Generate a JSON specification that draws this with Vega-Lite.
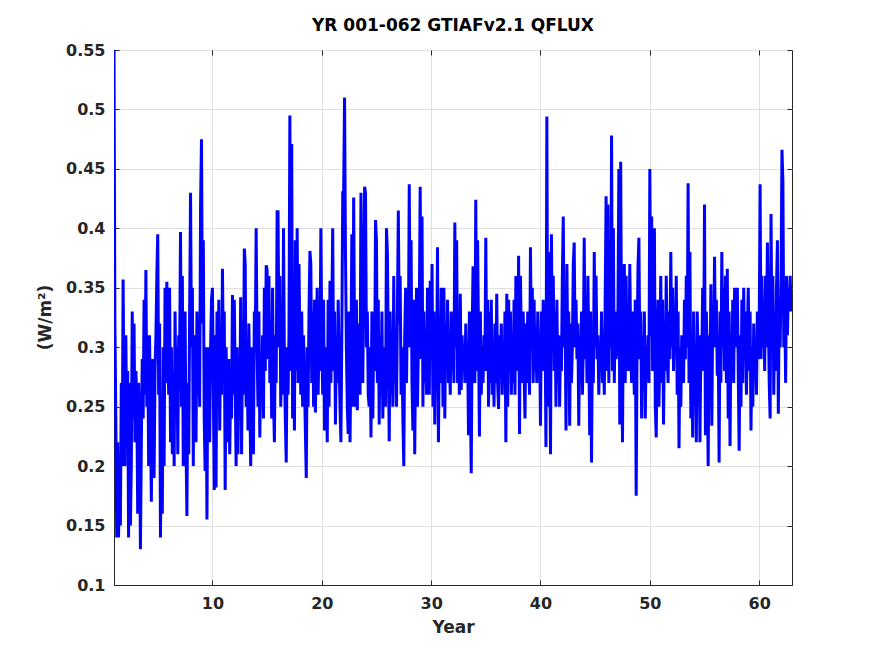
{
  "$schema": "https://vega.github.io/schema/vega-lite/v6.json",
  "title": {"text": "YR 001-062 GTIAFv2.1 QFLUX", "fontSize": 17, "fontWeight": "bold", "color": "#000000", "font": "DejaVu Sans", "anchor": "middle", "offset": 7},
  "width": 678,
  "height": 535,
  "autosize": "none",
  "padding": {"left": 114, "top": 50, "right": 83, "bottom": 71},
  "background": "white",
  "data": {"values": [
{"year":1,"qflux":0.55},{"year":1.083,"qflux":0.32},{"year":1.167,"qflux":0.24},{"year":1.25,"qflux":0.14},{"year":1.333,"qflux":0.22},{"year":1.417,"qflux":0.14},{"year":1.5,"qflux":0.21},{"year":1.583,"qflux":0.15},{"year":1.667,"qflux":0.27},{"year":1.75,"qflux":0.2},{"year":1.833,"qflux":0.357},{"year":1.917,"qflux":0.25},
{"year":2,"qflux":0.2},{"year":2.083,"qflux":0.31},{"year":2.167,"qflux":0.22},{"year":2.25,"qflux":0.28},{"year":2.333,"qflux":0.14},{"year":2.417,"qflux":0.27},{"year":2.5,"qflux":0.15},{"year":2.583,"qflux":0.2},{"year":2.667,"qflux":0.33},{"year":2.75,"qflux":0.24},{"year":2.833,"qflux":0.32},{"year":2.917,"qflux":0.22},
{"year":3,"qflux":0.28},{"year":3.083,"qflux":0.26},{"year":3.167,"qflux":0.16},{"year":3.25,"qflux":0.27},{"year":3.333,"qflux":0.23},{"year":3.417,"qflux":0.13},{"year":3.5,"qflux":0.22},{"year":3.583,"qflux":0.29},{"year":3.667,"qflux":0.24},{"year":3.75,"qflux":0.34},{"year":3.833,"qflux":0.26},{"year":3.917,"qflux":0.365},
{"year":4,"qflux":0.25},{"year":4.083,"qflux":0.31},{"year":4.167,"qflux":0.2},{"year":4.25,"qflux":0.31},{"year":4.333,"qflux":0.24},{"year":4.417,"qflux":0.17},{"year":4.5,"qflux":0.29},{"year":4.583,"qflux":0.22},{"year":4.667,"qflux":0.19},{"year":4.75,"qflux":0.28},{"year":4.833,"qflux":0.31},{"year":4.917,"qflux":0.36},
{"year":5,"qflux":0.395},{"year":5.083,"qflux":0.26},{"year":5.167,"qflux":0.32},{"year":5.25,"qflux":0.14},{"year":5.333,"qflux":0.25},{"year":5.417,"qflux":0.16},{"year":5.5,"qflux":0.3},{"year":5.583,"qflux":0.2},{"year":5.667,"qflux":0.35},{"year":5.75,"qflux":0.27},{"year":5.833,"qflux":0.355},{"year":5.917,"qflux":0.3},
{"year":6,"qflux":0.26},{"year":6.083,"qflux":0.35},{"year":6.167,"qflux":0.22},{"year":6.25,"qflux":0.3},{"year":6.333,"qflux":0.21},{"year":6.417,"qflux":0.28},{"year":6.5,"qflux":0.2},{"year":6.583,"qflux":0.33},{"year":6.667,"qflux":0.26},{"year":6.75,"qflux":0.3},{"year":6.833,"qflux":0.21},{"year":6.917,"qflux":0.31},
{"year":7,"qflux":0.29},{"year":7.083,"qflux":0.397},{"year":7.167,"qflux":0.25},{"year":7.25,"qflux":0.36},{"year":7.333,"qflux":0.2},{"year":7.417,"qflux":0.28},{"year":7.5,"qflux":0.33},{"year":7.583,"qflux":0.22},{"year":7.667,"qflux":0.158},{"year":7.75,"qflux":0.27},{"year":7.833,"qflux":0.21},{"year":7.917,"qflux":0.33},
{"year":8,"qflux":0.43},{"year":8.083,"qflux":0.3},{"year":8.167,"qflux":0.35},{"year":8.25,"qflux":0.2},{"year":8.333,"qflux":0.31},{"year":8.417,"qflux":0.27},{"year":8.5,"qflux":0.22},{"year":8.583,"qflux":0.33},{"year":8.667,"qflux":0.26},{"year":8.75,"qflux":0.3},{"year":8.833,"qflux":0.25},{"year":8.917,"qflux":0.42},
{"year":9,"qflux":0.475},{"year":9.083,"qflux":0.32},{"year":9.167,"qflux":0.39},{"year":9.25,"qflux":0.24},{"year":9.333,"qflux":0.196},{"year":9.417,"qflux":0.3},{"year":9.5,"qflux":0.155},{"year":9.583,"qflux":0.3},{"year":9.667,"qflux":0.26},{"year":9.75,"qflux":0.22},{"year":9.833,"qflux":0.3},{"year":9.917,"qflux":0.34},
{"year":10,"qflux":0.35},{"year":10.083,"qflux":0.27},{"year":10.167,"qflux":0.18},{"year":10.25,"qflux":0.31},{"year":10.333,"qflux":0.182},{"year":10.417,"qflux":0.33},{"year":10.5,"qflux":0.25},{"year":10.583,"qflux":0.34},{"year":10.667,"qflux":0.23},{"year":10.75,"qflux":0.3},{"year":10.833,"qflux":0.26},{"year":10.917,"qflux":0.366},
{"year":11,"qflux":0.29},{"year":11.083,"qflux":0.33},{"year":11.167,"qflux":0.18},{"year":11.25,"qflux":0.3},{"year":11.333,"qflux":0.26},{"year":11.417,"qflux":0.22},{"year":11.5,"qflux":0.29},{"year":11.583,"qflux":0.21},{"year":11.667,"qflux":0.27},{"year":11.75,"qflux":0.24},{"year":11.833,"qflux":0.344},{"year":11.917,"qflux":0.26},
{"year":12,"qflux":0.34},{"year":12.083,"qflux":0.27},{"year":12.167,"qflux":0.2},{"year":12.25,"qflux":0.3},{"year":12.333,"qflux":0.21},{"year":12.417,"qflux":0.28},{"year":12.5,"qflux":0.25},{"year":12.583,"qflux":0.342},{"year":12.667,"qflux":0.21},{"year":12.75,"qflux":0.3},{"year":12.833,"qflux":0.26},{"year":12.917,"qflux":0.383},
{"year":13,"qflux":0.37},{"year":13.083,"qflux":0.25},{"year":13.167,"qflux":0.3},{"year":13.25,"qflux":0.23},{"year":13.333,"qflux":0.32},{"year":13.417,"qflux":0.26},{"year":13.5,"qflux":0.2},{"year":13.583,"qflux":0.3},{"year":13.667,"qflux":0.25},{"year":13.75,"qflux":0.21},{"year":13.833,"qflux":0.33},{"year":13.917,"qflux":0.3},
{"year":14,"qflux":0.4},{"year":14.083,"qflux":0.3},{"year":14.167,"qflux":0.25},{"year":14.25,"qflux":0.33},{"year":14.333,"qflux":0.224},{"year":14.417,"qflux":0.29},{"year":14.5,"qflux":0.26},{"year":14.583,"qflux":0.31},{"year":14.667,"qflux":0.24},{"year":14.75,"qflux":0.35},{"year":14.833,"qflux":0.28},{"year":14.917,"qflux":0.369},
{"year":15,"qflux":0.365},{"year":15.083,"qflux":0.29},{"year":15.167,"qflux":0.36},{"year":15.25,"qflux":0.27},{"year":15.333,"qflux":0.32},{"year":15.417,"qflux":0.24},{"year":15.5,"qflux":0.35},{"year":15.583,"qflux":0.26},{"year":15.667,"qflux":0.22},{"year":15.75,"qflux":0.31},{"year":15.833,"qflux":0.27},{"year":15.917,"qflux":0.414},
{"year":16,"qflux":0.414},{"year":16.083,"qflux":0.3},{"year":16.167,"qflux":0.36},{"year":16.25,"qflux":0.25},{"year":16.333,"qflux":0.33},{"year":16.417,"qflux":0.26},{"year":16.5,"qflux":0.4},{"year":16.583,"qflux":0.29},{"year":16.667,"qflux":0.24},{"year":16.75,"qflux":0.203},{"year":16.833,"qflux":0.3},{"year":16.917,"qflux":0.26},
{"year":17,"qflux":0.31},{"year":17.083,"qflux":0.495},{"year":17.167,"qflux":0.28},{"year":17.25,"qflux":0.471},{"year":17.333,"qflux":0.24},{"year":17.417,"qflux":0.33},{"year":17.5,"qflux":0.23},{"year":17.583,"qflux":0.39},{"year":17.667,"qflux":0.28},{"year":17.75,"qflux":0.4},{"year":17.833,"qflux":0.27},{"year":17.917,"qflux":0.37},
{"year":18,"qflux":0.3},{"year":18.083,"qflux":0.26},{"year":18.167,"qflux":0.33},{"year":18.25,"qflux":0.25},{"year":18.333,"qflux":0.31},{"year":18.417,"qflux":0.27},{"year":18.5,"qflux":0.23},{"year":18.583,"qflux":0.19},{"year":18.667,"qflux":0.3},{"year":18.75,"qflux":0.25},{"year":18.833,"qflux":0.33},{"year":18.917,"qflux":0.381},
{"year":19,"qflux":0.37},{"year":19.083,"qflux":0.27},{"year":19.167,"qflux":0.33},{"year":19.25,"qflux":0.25},{"year":19.333,"qflux":0.34},{"year":19.417,"qflux":0.245},{"year":19.5,"qflux":0.31},{"year":19.583,"qflux":0.35},{"year":19.667,"qflux":0.26},{"year":19.75,"qflux":0.31},{"year":19.833,"qflux":0.28},{"year":19.917,"qflux":0.4},
{"year":20,"qflux":0.31},{"year":20.083,"qflux":0.26},{"year":20.167,"qflux":0.34},{"year":20.25,"qflux":0.23},{"year":20.333,"qflux":0.3},{"year":20.417,"qflux":0.27},{"year":20.5,"qflux":0.22},{"year":20.583,"qflux":0.34},{"year":20.667,"qflux":0.25},{"year":20.75,"qflux":0.356},{"year":20.833,"qflux":0.27},{"year":20.917,"qflux":0.33},
{"year":21,"qflux":0.4},{"year":21.083,"qflux":0.28},{"year":21.167,"qflux":0.33},{"year":21.25,"qflux":0.235},{"year":21.333,"qflux":0.3},{"year":21.417,"qflux":0.27},{"year":21.5,"qflux":0.34},{"year":21.583,"qflux":0.29},{"year":21.667,"qflux":0.25},{"year":21.75,"qflux":0.22},{"year":21.833,"qflux":0.31},{"year":21.917,"qflux":0.43},
{"year":22,"qflux":0.43},{"year":22.083,"qflux":0.51},{"year":22.167,"qflux":0.38},{"year":22.25,"qflux":0.3},{"year":22.333,"qflux":0.25},{"year":22.417,"qflux":0.227},{"year":22.5,"qflux":0.33},{"year":22.583,"qflux":0.22},{"year":22.667,"qflux":0.29},{"year":22.75,"qflux":0.395},{"year":22.833,"qflux":0.25},{"year":22.917,"qflux":0.426},
{"year":23,"qflux":0.3},{"year":23.083,"qflux":0.25},{"year":23.167,"qflux":0.34},{"year":23.25,"qflux":0.247},{"year":23.333,"qflux":0.32},{"year":23.417,"qflux":0.28},{"year":23.5,"qflux":0.26},{"year":23.583,"qflux":0.43},{"year":23.667,"qflux":0.3},{"year":23.75,"qflux":0.27},{"year":23.833,"qflux":0.36},{"year":23.917,"qflux":0.435},
{"year":24,"qflux":0.43},{"year":24.083,"qflux":0.3},{"year":24.167,"qflux":0.33},{"year":24.25,"qflux":0.26},{"year":24.333,"qflux":0.25},{"year":24.417,"qflux":0.3},{"year":24.5,"qflux":0.224},{"year":24.583,"qflux":0.33},{"year":24.667,"qflux":0.24},{"year":24.75,"qflux":0.31},{"year":24.833,"qflux":0.28},{"year":24.917,"qflux":0.407},
{"year":25,"qflux":0.39},{"year":25.083,"qflux":0.27},{"year":25.167,"qflux":0.34},{"year":25.25,"qflux":0.235},{"year":25.333,"qflux":0.31},{"year":25.417,"qflux":0.26},{"year":25.5,"qflux":0.33},{"year":25.583,"qflux":0.24},{"year":25.667,"qflux":0.3},{"year":25.75,"qflux":0.27},{"year":25.833,"qflux":0.25},{"year":25.917,"qflux":0.4},
{"year":26,"qflux":0.38},{"year":26.083,"qflux":0.3},{"year":26.167,"qflux":0.221},{"year":26.25,"qflux":0.33},{"year":26.333,"qflux":0.26},{"year":26.417,"qflux":0.31},{"year":26.5,"qflux":0.25},{"year":26.583,"qflux":0.36},{"year":26.667,"qflux":0.27},{"year":26.75,"qflux":0.3},{"year":26.833,"qflux":0.25},{"year":26.917,"qflux":0.33},
{"year":27,"qflux":0.415},{"year":27.083,"qflux":0.32},{"year":27.167,"qflux":0.36},{"year":27.25,"qflux":0.26},{"year":27.333,"qflux":0.3},{"year":27.417,"qflux":0.24},{"year":27.5,"qflux":0.2},{"year":27.583,"qflux":0.31},{"year":27.667,"qflux":0.35},{"year":27.75,"qflux":0.27},{"year":27.833,"qflux":0.34},{"year":27.917,"qflux":0.3},
{"year":28,"qflux":0.437},{"year":28.083,"qflux":0.3},{"year":28.167,"qflux":0.39},{"year":28.25,"qflux":0.27},{"year":28.333,"qflux":0.23},{"year":28.417,"qflux":0.34},{"year":28.5,"qflux":0.21},{"year":28.583,"qflux":0.3},{"year":28.667,"qflux":0.35},{"year":28.75,"qflux":0.25},{"year":28.833,"qflux":0.3},{"year":28.917,"qflux":0.33},
{"year":29,"qflux":0.435},{"year":29.083,"qflux":0.29},{"year":29.167,"qflux":0.41},{"year":29.25,"qflux":0.25},{"year":29.333,"qflux":0.33},{"year":29.417,"qflux":0.27},{"year":29.5,"qflux":0.31},{"year":29.583,"qflux":0.26},{"year":29.667,"qflux":0.35},{"year":29.75,"qflux":0.29},{"year":29.833,"qflux":0.26},{"year":29.917,"qflux":0.356},
{"year":30,"qflux":0.3},{"year":30.083,"qflux":0.37},{"year":30.167,"qflux":0.25},{"year":30.25,"qflux":0.33},{"year":30.333,"qflux":0.235},{"year":30.417,"qflux":0.31},{"year":30.5,"qflux":0.28},{"year":30.583,"qflux":0.384},{"year":30.667,"qflux":0.22},{"year":30.75,"qflux":0.3},{"year":30.833,"qflux":0.27},{"year":30.917,"qflux":0.35},
{"year":31,"qflux":0.33},{"year":31.083,"qflux":0.25},{"year":31.167,"qflux":0.35},{"year":31.25,"qflux":0.24},{"year":31.333,"qflux":0.32},{"year":31.417,"qflux":0.28},{"year":31.5,"qflux":0.34},{"year":31.583,"qflux":0.27},{"year":31.667,"qflux":0.3},{"year":31.75,"qflux":0.26},{"year":31.833,"qflux":0.33},{"year":31.917,"qflux":0.28},
{"year":32,"qflux":0.31},{"year":32.083,"qflux":0.27},{"year":32.167,"qflux":0.405},{"year":32.25,"qflux":0.3},{"year":32.333,"qflux":0.39},{"year":32.417,"qflux":0.27},{"year":32.5,"qflux":0.33},{"year":32.583,"qflux":0.26},{"year":32.667,"qflux":0.345},{"year":32.75,"qflux":0.264},{"year":32.833,"qflux":0.31},{"year":32.917,"qflux":0.28},
{"year":33,"qflux":0.3},{"year":33.083,"qflux":0.27},{"year":33.167,"qflux":0.32},{"year":33.25,"qflux":0.28},{"year":33.333,"qflux":0.3},{"year":33.417,"qflux":0.226},{"year":33.5,"qflux":0.33},{"year":33.583,"qflux":0.26},{"year":33.667,"qflux":0.194},{"year":33.75,"qflux":0.31},{"year":33.833,"qflux":0.368},{"year":33.917,"qflux":0.3},
{"year":34,"qflux":0.27},{"year":34.083,"qflux":0.424},{"year":34.167,"qflux":0.28},{"year":34.25,"qflux":0.39},{"year":34.333,"qflux":0.31},{"year":34.417,"qflux":0.225},{"year":34.5,"qflux":0.33},{"year":34.583,"qflux":0.26},{"year":34.667,"qflux":0.3},{"year":34.75,"qflux":0.27},{"year":34.833,"qflux":0.31},{"year":34.917,"qflux":0.28},
{"year":35,"qflux":0.392},{"year":35.083,"qflux":0.28},{"year":35.167,"qflux":0.34},{"year":35.25,"qflux":0.25},{"year":35.333,"qflux":0.33},{"year":35.417,"qflux":0.27},{"year":35.5,"qflux":0.34},{"year":35.583,"qflux":0.26},{"year":35.667,"qflux":0.3},{"year":35.75,"qflux":0.25},{"year":35.833,"qflux":0.32},{"year":35.917,"qflux":0.27},
{"year":36,"qflux":0.345},{"year":36.083,"qflux":0.27},{"year":36.167,"qflux":0.248},{"year":36.25,"qflux":0.31},{"year":36.333,"qflux":0.28},{"year":36.417,"qflux":0.32},{"year":36.5,"qflux":0.26},{"year":36.583,"qflux":0.3},{"year":36.667,"qflux":0.27},{"year":36.75,"qflux":0.33},{"year":36.833,"qflux":0.22},{"year":36.917,"qflux":0.345},
{"year":37,"qflux":0.25},{"year":37.083,"qflux":0.34},{"year":37.167,"qflux":0.28},{"year":37.25,"qflux":0.33},{"year":37.333,"qflux":0.26},{"year":37.417,"qflux":0.3},{"year":37.5,"qflux":0.27},{"year":37.583,"qflux":0.34},{"year":37.667,"qflux":0.26},{"year":37.75,"qflux":0.36},{"year":37.833,"qflux":0.29},{"year":37.917,"qflux":0.28},
{"year":38,"qflux":0.377},{"year":38.083,"qflux":0.227},{"year":38.167,"qflux":0.36},{"year":38.25,"qflux":0.3},{"year":38.333,"qflux":0.27},{"year":38.417,"qflux":0.33},{"year":38.5,"qflux":0.28},{"year":38.583,"qflux":0.24},{"year":38.667,"qflux":0.32},{"year":38.75,"qflux":0.27},{"year":38.833,"qflux":0.33},{"year":38.917,"qflux":0.29},
{"year":39,"qflux":0.26},{"year":39.083,"qflux":0.384},{"year":39.167,"qflux":0.3},{"year":39.25,"qflux":0.35},{"year":39.333,"qflux":0.27},{"year":39.417,"qflux":0.34},{"year":39.5,"qflux":0.28},{"year":39.583,"qflux":0.3},{"year":39.667,"qflux":0.27},{"year":39.75,"qflux":0.33},{"year":39.833,"qflux":0.29},{"year":39.917,"qflux":0.31},
{"year":40,"qflux":0.234},{"year":40.083,"qflux":0.33},{"year":40.167,"qflux":0.28},{"year":40.25,"qflux":0.34},{"year":40.333,"qflux":0.3},{"year":40.417,"qflux":0.32},{"year":40.5,"qflux":0.216},{"year":40.583,"qflux":0.494},{"year":40.667,"qflux":0.25},{"year":40.75,"qflux":0.38},{"year":40.833,"qflux":0.3},{"year":40.917,"qflux":0.21},
{"year":41,"qflux":0.395},{"year":41.083,"qflux":0.3},{"year":41.167,"qflux":0.36},{"year":41.25,"qflux":0.28},{"year":41.333,"qflux":0.33},{"year":41.417,"qflux":0.25},{"year":41.5,"qflux":0.34},{"year":41.583,"qflux":0.27},{"year":41.667,"qflux":0.31},{"year":41.75,"qflux":0.25},{"year":41.833,"qflux":0.3},{"year":41.917,"qflux":0.28},
{"year":42,"qflux":0.36},{"year":42.083,"qflux":0.41},{"year":42.167,"qflux":0.3},{"year":42.25,"qflux":0.33},{"year":42.333,"qflux":0.23},{"year":42.417,"qflux":0.37},{"year":42.5,"qflux":0.28},{"year":42.583,"qflux":0.33},{"year":42.667,"qflux":0.234},{"year":42.75,"qflux":0.32},{"year":42.833,"qflux":0.27},{"year":42.917,"qflux":0.3},
{"year":43,"qflux":0.37},{"year":43.083,"qflux":0.388},{"year":43.167,"qflux":0.3},{"year":43.25,"qflux":0.34},{"year":43.333,"qflux":0.29},{"year":43.417,"qflux":0.32},{"year":43.5,"qflux":0.234},{"year":43.583,"qflux":0.31},{"year":43.667,"qflux":0.28},{"year":43.75,"qflux":0.33},{"year":43.833,"qflux":0.26},{"year":43.917,"qflux":0.3},
{"year":44,"qflux":0.392},{"year":44.083,"qflux":0.29},{"year":44.167,"qflux":0.34},{"year":44.25,"qflux":0.27},{"year":44.333,"qflux":0.36},{"year":44.417,"qflux":0.3},{"year":44.5,"qflux":0.226},{"year":44.583,"qflux":0.33},{"year":44.667,"qflux":0.203},{"year":44.75,"qflux":0.31},{"year":44.833,"qflux":0.27},{"year":44.917,"qflux":0.38},
{"year":45,"qflux":0.3},{"year":45.083,"qflux":0.36},{"year":45.167,"qflux":0.29},{"year":45.25,"qflux":0.31},{"year":45.333,"qflux":0.26},{"year":45.417,"qflux":0.3},{"year":45.5,"qflux":0.28},{"year":45.583,"qflux":0.33},{"year":45.667,"qflux":0.27},{"year":45.75,"qflux":0.3},{"year":45.833,"qflux":0.26},{"year":45.917,"qflux":0.34},
{"year":46,"qflux":0.427},{"year":46.083,"qflux":0.28},{"year":46.167,"qflux":0.42},{"year":46.25,"qflux":0.27},{"year":46.333,"qflux":0.35},{"year":46.417,"qflux":0.3},{"year":46.5,"qflux":0.478},{"year":46.583,"qflux":0.28},{"year":46.667,"qflux":0.4},{"year":46.75,"qflux":0.27},{"year":46.833,"qflux":0.33},{"year":46.917,"qflux":0.29},
{"year":47,"qflux":0.3},{"year":47.083,"qflux":0.33},{"year":47.167,"qflux":0.45},{"year":47.25,"qflux":0.235},{"year":47.333,"qflux":0.456},{"year":47.417,"qflux":0.3},{"year":47.5,"qflux":0.22},{"year":47.583,"qflux":0.34},{"year":47.667,"qflux":0.37},{"year":47.75,"qflux":0.27},{"year":47.833,"qflux":0.36},{"year":47.917,"qflux":0.28},
{"year":48,"qflux":0.33},{"year":48.083,"qflux":0.28},{"year":48.167,"qflux":0.37},{"year":48.25,"qflux":0.3},{"year":48.333,"qflux":0.27},{"year":48.417,"qflux":0.33},{"year":48.5,"qflux":0.3},{"year":48.583,"qflux":0.26},{"year":48.667,"qflux":0.34},{"year":48.75,"qflux":0.175},{"year":48.833,"qflux":0.3},{"year":48.917,"qflux":0.368},
{"year":49,"qflux":0.392},{"year":49.083,"qflux":0.29},{"year":49.167,"qflux":0.33},{"year":49.25,"qflux":0.24},{"year":49.333,"qflux":0.31},{"year":49.417,"qflux":0.27},{"year":49.5,"qflux":0.33},{"year":49.583,"qflux":0.24},{"year":49.667,"qflux":0.3},{"year":49.75,"qflux":0.28},{"year":49.833,"qflux":0.31},{"year":49.917,"qflux":0.27},
{"year":50,"qflux":0.45},{"year":50.083,"qflux":0.31},{"year":50.167,"qflux":0.41},{"year":50.25,"qflux":0.28},{"year":50.333,"qflux":0.32},{"year":50.417,"qflux":0.4},{"year":50.5,"qflux":0.25},{"year":50.583,"qflux":0.224},{"year":50.667,"qflux":0.3},{"year":50.75,"qflux":0.34},{"year":50.833,"qflux":0.25},{"year":50.917,"qflux":0.3},
{"year":51,"qflux":0.36},{"year":51.083,"qflux":0.27},{"year":51.167,"qflux":0.34},{"year":51.25,"qflux":0.235},{"year":51.333,"qflux":0.31},{"year":51.417,"qflux":0.28},{"year":51.5,"qflux":0.36},{"year":51.583,"qflux":0.3},{"year":51.667,"qflux":0.27},{"year":51.75,"qflux":0.33},{"year":51.833,"qflux":0.29},{"year":51.917,"qflux":0.38},
{"year":52,"qflux":0.3},{"year":52.083,"qflux":0.35},{"year":52.167,"qflux":0.28},{"year":52.25,"qflux":0.33},{"year":52.333,"qflux":0.3},{"year":52.417,"qflux":0.36},{"year":52.5,"qflux":0.26},{"year":52.583,"qflux":0.33},{"year":52.667,"qflux":0.215},{"year":52.75,"qflux":0.3},{"year":52.833,"qflux":0.25},{"year":52.917,"qflux":0.31},
{"year":53,"qflux":0.3},{"year":53.083,"qflux":0.27},{"year":53.167,"qflux":0.34},{"year":53.25,"qflux":0.29},{"year":53.333,"qflux":0.36},{"year":53.417,"qflux":0.3},{"year":53.5,"qflux":0.438},{"year":53.583,"qflux":0.27},{"year":53.667,"qflux":0.38},{"year":53.75,"qflux":0.24},{"year":53.833,"qflux":0.31},{"year":53.917,"qflux":0.224},
{"year":54,"qflux":0.33},{"year":54.083,"qflux":0.26},{"year":54.167,"qflux":0.3},{"year":54.25,"qflux":0.22},{"year":54.333,"qflux":0.33},{"year":54.417,"qflux":0.28},{"year":54.5,"qflux":0.31},{"year":54.583,"qflux":0.22},{"year":54.667,"qflux":0.3},{"year":54.75,"qflux":0.29},{"year":54.833,"qflux":0.35},{"year":54.917,"qflux":0.28},
{"year":55,"qflux":0.42},{"year":55.083,"qflux":0.226},{"year":55.167,"qflux":0.33},{"year":55.25,"qflux":0.29},{"year":55.333,"qflux":0.2},{"year":55.417,"qflux":0.31},{"year":55.5,"qflux":0.27},{"year":55.583,"qflux":0.353},{"year":55.667,"qflux":0.234},{"year":55.75,"qflux":0.33},{"year":55.833,"qflux":0.3},{"year":55.917,"qflux":0.376},
{"year":56,"qflux":0.3},{"year":56.083,"qflux":0.34},{"year":56.167,"qflux":0.276},{"year":56.25,"qflux":0.31},{"year":56.333,"qflux":0.203},{"year":56.417,"qflux":0.33},{"year":56.5,"qflux":0.27},{"year":56.583,"qflux":0.38},{"year":56.667,"qflux":0.3},{"year":56.75,"qflux":0.35},{"year":56.833,"qflux":0.28},{"year":56.917,"qflux":0.36},
{"year":57,"qflux":0.27},{"year":57.083,"qflux":0.366},{"year":57.167,"qflux":0.24},{"year":57.25,"qflux":0.33},{"year":57.333,"qflux":0.217},{"year":57.417,"qflux":0.31},{"year":57.5,"qflux":0.28},{"year":57.583,"qflux":0.34},{"year":57.667,"qflux":0.27},{"year":57.75,"qflux":0.35},{"year":57.833,"qflux":0.3},{"year":57.917,"qflux":0.33},
{"year":58,"qflux":0.35},{"year":58.083,"qflux":0.28},{"year":58.167,"qflux":0.213},{"year":58.25,"qflux":0.31},{"year":58.333,"qflux":0.25},{"year":58.417,"qflux":0.34},{"year":58.5,"qflux":0.27},{"year":58.583,"qflux":0.35},{"year":58.667,"qflux":0.29},{"year":58.75,"qflux":0.33},{"year":58.833,"qflux":0.26},{"year":58.917,"qflux":0.31},
{"year":59,"qflux":0.35},{"year":59.083,"qflux":0.28},{"year":59.167,"qflux":0.33},{"year":59.25,"qflux":0.23},{"year":59.333,"qflux":0.3},{"year":59.417,"qflux":0.25},{"year":59.5,"qflux":0.32},{"year":59.583,"qflux":0.28},{"year":59.667,"qflux":0.3},{"year":59.75,"qflux":0.26},{"year":59.833,"qflux":0.33},{"year":59.917,"qflux":0.29},
{"year":60,"qflux":0.31},{"year":60.083,"qflux":0.437},{"year":60.167,"qflux":0.29},{"year":60.25,"qflux":0.36},{"year":60.333,"qflux":0.3},{"year":60.417,"qflux":0.34},{"year":60.5,"qflux":0.28},{"year":60.583,"qflux":0.36},{"year":60.667,"qflux":0.3},{"year":60.75,"qflux":0.388},{"year":60.833,"qflux":0.33},{"year":60.917,"qflux":0.27},
{"year":61,"qflux":0.24},{"year":61.083,"qflux":0.412},{"year":61.167,"qflux":0.3},{"year":61.25,"qflux":0.36},{"year":61.333,"qflux":0.26},{"year":61.417,"qflux":0.33},{"year":61.5,"qflux":0.28},{"year":61.583,"qflux":0.35},{"year":61.667,"qflux":0.39},{"year":61.75,"qflux":0.244},{"year":61.833,"qflux":0.34},{"year":61.917,"qflux":0.3},
{"year":62,"qflux":0.36},{"year":62.083,"qflux":0.466},{"year":62.167,"qflux":0.44},{"year":62.25,"qflux":0.3},{"year":62.333,"qflux":0.34},{"year":62.417,"qflux":0.27},{"year":62.5,"qflux":0.36},{"year":62.583,"qflux":0.31},{"year":62.667,"qflux":0.35},{"year":62.75,"qflux":0.33},{"year":62.833,"qflux":0.36},{"year":62.917,"qflux":0.33},
{"year":63,"qflux":0.35}
  ]},
  "encoding": {
    "x": {"field": "year", "type": "quantitative", "scale": {"domain": [1, 63], "nice": false, "zero": false}},
    "y": {"field": "qflux", "type": "quantitative", "scale": {"domain": [0.1, 0.55], "nice": false, "zero": false}}
  },
  "layer": [
    {
      "mark": {"type": "line", "color": "#0000ff", "strokeWidth": 3, "clip": true},
      "encoding": {
        "x": {"field": "year", "type": "quantitative", "axis": {"orient": "bottom", "values": [10, 20, 30, 40, 50, 60], "title": "Year", "labelPadding": 15, "titleY": 42, "titleBaseline": "middle"}},
        "y": {"field": "qflux", "type": "quantitative", "axis": {"orient": "left", "values": [0.1, 0.15, 0.2, 0.25, 0.3, 0.35, 0.4, 0.45, 0.5, 0.55], "format": ".2~f", "title": "(W/m²)", "labelPadding": 14, "titleAngle": -90, "titleX": -69, "titleY": 267, "titleBaseline": "middle", "titleAlign": "center"}}
      }
    },
    {
      "mark": {"type": "line", "opacity": 0},
      "encoding": {
        "x": {"field": "year", "type": "quantitative", "axis": {"orient": "top", "values": [10, 20, 30, 40, 50, 60], "labels": false, "title": null, "grid": false, "domain": false}},
        "y": {"field": "qflux", "type": "quantitative", "axis": {"orient": "right", "values": [0.1, 0.15, 0.2, 0.25, 0.3, 0.35, 0.4, 0.45, 0.5, 0.55], "labels": false, "title": null, "grid": false, "domain": false}}
      }
    }
  ],
  "resolve": {"axis": {"x": "independent", "y": "independent"}},
  "config": {
    "font": "DejaVu Sans",
    "view": {"stroke": "#262626", "strokeWidth": 1},
    "axis": {
      "labelFont": "DejaVu Sans",
      "labelFontSize": 16,
      "labelFontWeight": "bold",
      "labelColor": "#262626",
      "titleFont": "DejaVu Sans",
      "titleFontSize": 17,
      "titleFontWeight": "bold",
      "titleColor": "#262626",
      "domainColor": "#262626",
      "domainWidth": 1,
      "tickColor": "#262626",
      "tickSize": -5,
      "tickWidth": 1,
      "grid": true,
      "gridColor": "#dfdfdf",
      "gridWidth": 1
    }
  }
}
